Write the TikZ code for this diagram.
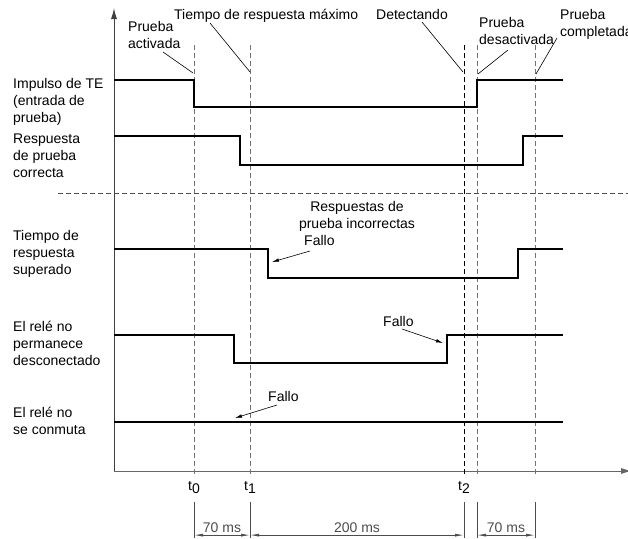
\documentclass[tikz,border=0pt]{standalone}
\usepackage{fontspec}
\setmainfont{Liberation Sans}
\usetikzlibrary{arrows.meta}

\begin{document}
\begin{tikzpicture}
  [x=1pt,y=-1pt,
   every node/.style={font=\fontsize{14}{17}\selectfont, inner sep=0pt},
   lbl/.style={anchor=north west, align=left},
   sig/.style={line width=1.8pt, line join=miter},
   guide/.style={line width=0.8pt, dash pattern=on 5pt off 3pt, black!55},
   lead/.style={line width=0.6pt},
   fail/.style={line width=0.6pt, -{Latex[length=7pt,width=3.5pt]}},
   dimline/.style={line width=0.8pt, black!70},
   dim/.style={line width=0.8pt, black!70, {Latex[length=9pt,width=3pt]}-{Latex[length=9pt,width=3pt]}}]
  \useasboundingbox (0,0) rectangle (628,538);

  % axes
  \draw[line width=1pt, black!75, -{Latex[length=11pt,width=6pt]}] (114,471) -- (114,8);
  \draw[line width=1pt, black!60, -{Latex[length=11pt,width=6pt]}] (114,471) -- (632,471);

  % time marks
  \foreach \x/\n in {194/g0,250/g1,477/g3,535/g4}
    \draw[guide] (\x,45) coordinate (\n) -- (\x,476);
  \draw[guide, black] (464,45) coordinate (g2) -- (464,476);
  \draw[guide, black!70] (58,193) -- (628,193);

  % signals
  \draw[sig] (114,80) -- (194,80) -- (194,107) -- (477,107) -- (477,80) -- (563,80);
  \draw[sig] (114,136) -- (240,136) -- (240,165) -- (523,165) -- (523,136) -- (563,136);
  \draw[sig] (114,249) -- (268,249) -- (268,278) -- (518,278) -- (518,249) -- (563,249);
  \draw[sig] (114,335) -- (234,335) -- (234,363) -- (447,363) -- (447,335) -- (563,335);
  \draw[sig] (114,422) -- (563,422);

  % signal names
  \node[lbl] (te) at (13,78) {Impulso de TE\\(entrada de\\prueba)};
  \node[lbl] (ok) at (13,134) {Respuesta\\de prueba\\correcta};
  \node[lbl] (over) at (13,230) {Tiempo de\\respuesta\\superado};
  \node[lbl] (stay) at (13,321) {El relé no\\permanece\\desconectado};
  \node[lbl] (sw) at (13,407) {El relé no\\se conmuta};

  % events
  \node[lbl] (on) at (128,21) {Prueba\\activada};
  \node[lbl] (tmax) at (174,9) {Tiempo de respuesta máximo};
  \node[lbl] (det) at (376,9) {Detectando};
  \node[lbl] (off) at (479,17) {Prueba\\desactivada};
  \node[lbl] (done) at (560,9) {Prueba\\completada};

  \coordinate (on-a) at (163,52);   \coordinate (on-b) at (193,73);
  \coordinate (tmax-a) at (210,23); \coordinate (tmax-b) at (250,72);
  \coordinate (det-a) at (422,22);  \coordinate (det-b) at (463,72);
  \coordinate (off-a) at (508,50);  \coordinate (off-b) at (478,74);
  \coordinate (done-a) at (557,38); \coordinate (done-b) at (536,74);
  \foreach \n in {on,tmax,det,off,done}
    \draw[lead] (\n-a) -- (\n-b);

  % faults
  \node[anchor=north, align=center] (bad) at (357,201) {Respuestas de\\prueba incorrectas};
  \node[lbl] (f1) at (304,235) {Fallo};
  \node[lbl] (f2) at (383,316) {Fallo};
  \node[lbl] (f3) at (268,391) {Fallo};

  \coordinate (f1-a) at (310,251); \coordinate (f1-b) at (272,262);
  \coordinate (f2-a) at (402,329); \coordinate (f2-b) at (443,343);
  \coordinate (f3-a) at (277,405); \coordinate (f3-b) at (235,418);
  \foreach \n in {f1,f2,f3}
    \draw[fail] (\n-a) -- (\n-b);

  % time labels
  \node[anchor=north] (t0) at (194,481) {t\raisebox{-0.5ex}{0}};
  \node[anchor=north] (t1) at (250,481) {t\raisebox{-0.5ex}{1}};
  \node[anchor=north] (t2) at (464,481) {t\raisebox{-0.5ex}{2}};

  % durations
  \foreach \x/\n in {194/d0,250/d1,464/d2,477/d3,535/d4}
    \draw[dimline] (\x,502) -- (\x,538) coordinate[pos=0.92] (\n);
  \draw[dim] (d0) -- node[above=2pt] {70 ms} (d1);
  \draw[dim] (d1) -- node[above=2pt] {200 ms} (d2);
  \draw[dim] (d3) -- node[above=2pt] {70 ms} (d4);

\end{tikzpicture}
\end{document}
